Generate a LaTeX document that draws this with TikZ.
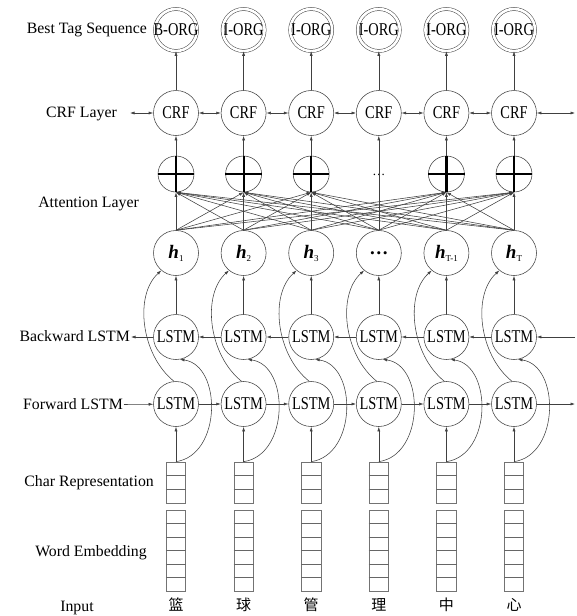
\documentclass[tikz,border=0pt]{standalone}
\usepackage{fontspec}
\setmainfont{Liberation Serif}
\newfontfamily\nodefont[FakeStretch=0.8]{Liberation Serif}
\newfontfamily\cjk{Noto Sans CJK SC}
\usetikzlibrary{arrows.meta,calc}
\newcommand\zb[1]{\makebox[0pt]{#1}}
\newcommand\hsub[1]{{\bfseries\itshape h}{\fontsize{9}{9}\selectfont\raisebox{-3pt}{#1}}}
\tikzset{
  ln/.style={draw=black!75, line width=0.55pt},
  arr/.style={ln, -{Latex[length=4.5pt,width=3pt]}},
  darr/.style={ln, {Latex[length=4.5pt,width=3pt]}-{Latex[length=4.5pt,width=3pt]}},
  unit/.style={circle, draw=black!75, line width=0.55pt, minimum size=45pt, inner sep=0pt, font=\nodefont\fontsize{18}{18}\selectfont},
  hnode/.style={circle, draw=black!75, line width=0.55pt, minimum size=45pt, inner sep=0pt, font=\fontsize{19}{19}\selectfont},
  tagnode/.style={circle, draw=black!75, line width=0.5pt, double, double distance=2.6pt, minimum size=42pt, inner sep=0pt, font=\nodefont\fontsize{18}{18}\selectfont},
  attnode/.style={circle, draw=black!75, line width=0.55pt, minimum size=36pt, inner sep=0pt},
  plusbar/.style={draw=black, line width=2.2pt},
  lbl/.style={anchor=east, inner sep=1pt, text height=11pt, text depth=3pt, font=\fontsize{15.8}{18}\selectfont},
  cellbox/.style={draw=black!55, line width=0.7pt, minimum width=19.5pt, inner sep=0pt},
  cellline/.style={draw=black!60, line width=0.6pt},
  cjkchar/.style={inner sep=0pt, font=\cjk\fontsize{15}{15}\selectfont},
}
\begin{document}
\begin{tikzpicture}[x=1pt,y=-1pt]
\useasboundingbox (0,0) rectangle (577,616);

% labels
\node[lbl] (lTag) at (148,29) {Best Tag Sequence};
\node[lbl] (lCRF) at (118,113) {CRF Layer};
\node[lbl] (lAtt) at (140,203) {Attention Layer};
\node[lbl] (lBwd) at (131,337) {Backward LSTM};
\node[lbl] (lFwd) at (124,405) {Forward LSTM};
\node[lbl] (lChr) at (155,482) {Char Representation};
\node[lbl] (lEmb) at (148,552) {Word Embedding};
\node[lbl, anchor=center] (lIn) at (77,607) {Input};

\coordinate (crfL) at (130,113);
\coordinate (crfR) at (575,113);
\coordinate (bwdR) at (575,337);
\coordinate (fwdR) at (575,404);

% columns
\foreach \i/\x/\tg/\ch in {1/176/B-ORG/篮,2/243.6/I-ORG/球,3/311.2/I-ORG/管,4/378.8/I-ORG/理,5/446.4/I-ORG/中,6/514/I-ORG/心}{
  \node[tagnode] (tag\i) at (\x,30) {\zb{\tg}};
  \node[unit] (crf\i) at (\x,113) {\zb{CRF}};
  \node[unit] (bwd\i) at (\x,337) {\zb{LSTM}};
  \node[unit] (fwd\i) at (\x,404) {\zb{LSTM}};
  \node[cellbox, minimum height=41pt] (chr\i) at (\x,482.5) {};
  \node[cellbox, minimum height=81pt] (emb\i) at (\x,550.5) {};
  \node[cjkchar] (in\i) at (\x,605) {\ch};
  \foreach \k in {1,2}{
    \draw[cellline] ($(chr\i.north west)!\k/3!(chr\i.south west)$) -- ($(chr\i.north east)!\k/3!(chr\i.south east)$);
  }
  \foreach \k in {1,...,5}{
    \draw[cellline] ($(emb\i.north west)!\k/6!(emb\i.south west)$) -- ($(emb\i.north east)!\k/6!(emb\i.south east)$);
  }
  \draw[arr] (crf\i) -- (tag\i);
  \draw[arr] (chr\i.north) -- (fwd\i.south);
  \draw[arr] (chr\i.north) .. controls (\x+46,455) and (\x+46,365) .. (bwd\i.-80);
}
\node[hnode] (h1) at (176,253) {\hsub{1}};
\node[hnode] (h2) at (243.6,253) {\hsub{2}};
\node[hnode] (h3) at (311.2,253) {\hsub{3}};
\node[hnode] (h4) at (378.8,253) {\textbf{\ldots}};
\node[hnode] (h5) at (446.4,253) {\hsub{T-1}};
\node[hnode] (h6) at (514,253) {\hsub{T}};

\foreach \i/\x in {1/176,2/243.6,3/311.2,5/446.4,6/514}{
  \node[attnode] (att\i) at (\x,174) {};
  \draw[plusbar] (att\i.west) -- (att\i.east);
  \draw[plusbar] (att\i.north) -- (att\i.south);
  \draw[arr] (att\i) -- (crf\i);
  \foreach \j in {1,...,6}{
    \draw[arr] (h\j.north) -- (att\i.south);
  }
}
\node[inner sep=0pt, font=\fontsize{13}{13}\selectfont] (dots4) at (378.8,175) {\ldots};
\draw[arr] (h4) -- (crf4);

\foreach \i/\x in {1/176,2/243.6,3/311.2,4/378.8,5/446.4,6/514}{
  \draw[arr] (bwd\i) -- (h\i);
  \draw[arr] (fwd\i.95) .. controls (\x-35,355) and (\x-42,295) .. (h\i.230);
}

% horizontal chains
\draw[darr] (crfL) -- (crf1);
\draw[darr] (crf6) -- (crfR);
\draw[arr] (lFwd) -- (fwd1);
\draw[arr] (fwd6) -- (fwdR);
\draw[arr] (bwdR) -- (bwd6);
\draw[arr] (bwd1) -- (lBwd);
\foreach \a/\b in {1/2,2/3,3/4,4/5,5/6}{
  \draw[darr] (crf\a) -- (crf\b);
  \draw[arr] (fwd\a) -- (fwd\b);
  \draw[arr] (bwd\b) -- (bwd\a);
}
\end{tikzpicture}
\end{document}
